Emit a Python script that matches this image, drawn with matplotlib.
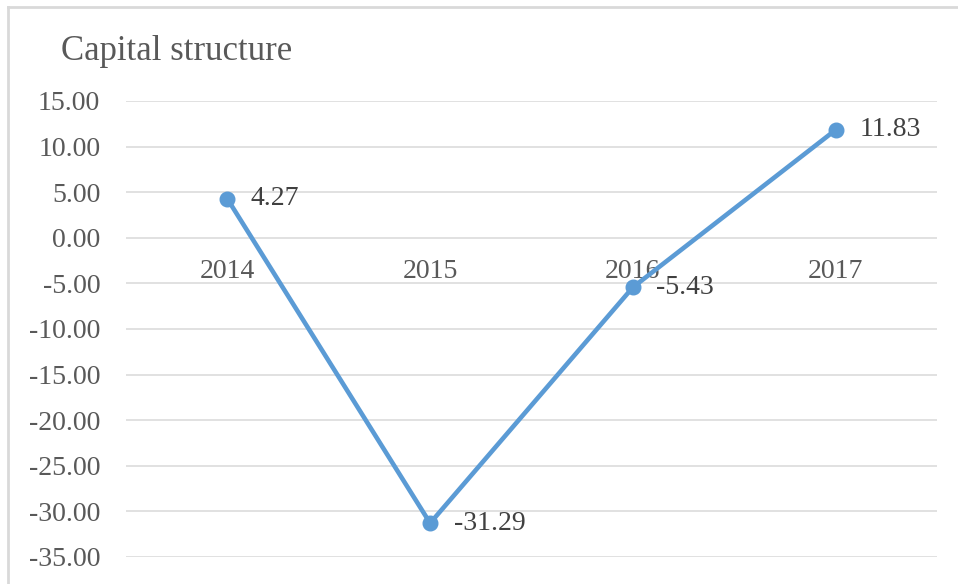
import matplotlib.pyplot as plt
from matplotlib.lines import Line2D

years = ['2014', '2015', '2016', '2017']
capital = [4.27, -31.29, -5.43, 11.83]
yticks = [15, 10, 5, 0, -5, -10, -15, -20, -25, -30, -35]

plt.rcParams['font.family'] = ['Liberation Serif', 'DejaVu Serif']

W, H = 958, 584
dpi = 100
fig = plt.figure(figsize=(W / dpi, H / dpi), dpi=dpi)
ax = fig.add_axes([126 / W, 1 - 557 / H, (937 - 126) / W, (557 - 101) / H])

xs = list(range(len(years)))
ax.plot(xs, capital, color='#5B9BD5', lw=3.3, marker='o', ms=10.5,
        solid_capstyle='round', zorder=3)

for x, v in zip(xs, capital):
    ax.annotate(f'{v:.2f}', (x, v), xytext=(17, 0), textcoords='offset points',
                ha='left', va='center', fontsize=20, color='#404040', zorder=4)
    # category labels sit just under the zero line
    ax.annotate(years[x], (x, 0), xytext=(0, -24.5), textcoords='offset points',
                ha='center', va='center', fontsize=20, color='#595959', zorder=2)

ax.set_xlim(-0.5, len(years) - 0.5)
ax.set_ylim(-35, 15)
ax.set_yticks(yticks)
ax.set_yticklabels([f'{t:.2f}' for t in yticks], fontsize=20, color='#595959')
ax.set_xticks([])
ax.tick_params(axis='y', length=0, pad=18.5)
ax.grid(axis='y', color='#d9d9d9', lw=1.1)
ax.set_axisbelow(True)
for s in ax.spines.values():
    s.set_visible(False)

fig.text(61 / W, 1 - 51 / H, 'Capital structure', fontsize=25, color='#595959',
         ha='left', va='center')

# chart area frame (top and left edges)
fig.add_artist(Line2D([8 / W, 1], [1 - 7 / H, 1 - 7 / H], color='#d9d9d9', lw=2,
                      transform=fig.transFigure))
fig.add_artist(Line2D([8 / W, 8 / W], [0, 1 - 7 / H], color='#d9d9d9', lw=2,
                      transform=fig.transFigure))

fig.savefig('out.png', dpi=dpi)
